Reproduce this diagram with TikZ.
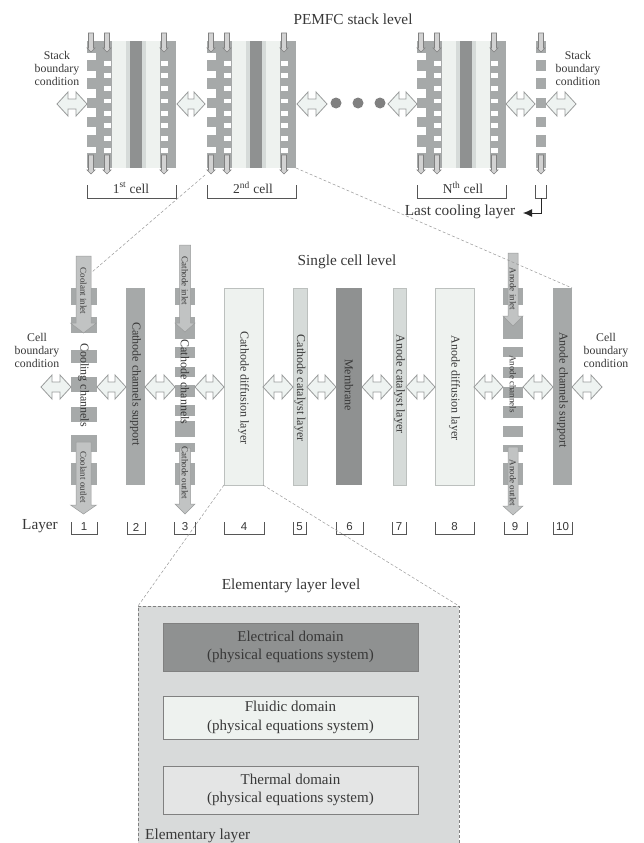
\documentclass[tikz,border=0pt]{standalone}
\usepackage{fontspec}
\usetikzlibrary{arrows.meta}
\setmainfont{Liberation Serif}
\newfontfamily\numfont{Liberation Sans}
\definecolor{txt}{HTML}{383838}
\definecolor{midg}{HTML}{A6A9A9}
\definecolor{darkg}{HTML}{8F9191}
\definecolor{catg}{HTML}{D6DBD9}
\definecolor{gdlg}{HTML}{EEF2EF}
\definecolor{edgeg}{HTML}{9A9C9C}
\definecolor{arrf}{HTML}{EEF3F1}
\definecolor{elemg}{HTML}{D8DADA}
\tikzset{
  lbl/.style={text=txt,font=\fontsize{15.3}{17}\selectfont,inner sep=0pt,align=center},
  celllbl/.style={text=txt,font=\fontsize{13.5}{15}\selectfont,inner sep=0pt,align=center},
  smalllbl/.style={text=txt,font=\fontsize{11.8}{13}\selectfont,inner sep=0pt,align=center},
  vert/.style={text=txt,font=\fontsize{12}{13}\selectfont,inner sep=0pt,rotate=-90},
  vsmall/.style={text=txt,font=\fontsize{9}{10}\selectfont,inner sep=0pt,rotate=-90},
  boxn/.style={inner sep=0pt,outer sep=0pt,anchor=north west,line width=.5pt},
  bigar/.style={draw=edgeg,fill=arrf,line width=.8pt,line join=miter},
  tinyar/.style={draw=gray,fill=white!65!gray,line width=.6pt},
  flowar/.style={draw=edgeg,fill=midg!70!white,line width=.5pt},
  brk/.style={draw=txt!85!white,line width=.7pt},
  zoomline/.style={draw=gray!80!white,line width=.5pt,densely dashed},
  dombox/.style={boxn,draw=gray,text=txt,align=center,font=\fontsize{15}{18.5}\selectfont}
}
% name, x1, y1, x2, y2, fill
\newcommand\rectn[6]{%
  \pgfmathsetmacro\rw{#4-#2}\pgfmathsetmacro\rh{#5-#3}%
  \node[boxn,fill=#6,minimum width=\rw pt,minimum height=\rh pt] (#1) at (#2,#3) {};}
% x1, x2, y : horizontal double arrow
\newcommand\dbl[3]{%
  \draw[bigar] (#1,#3) -- (#1+11,#3-12) -- (#1+11,#3-5) -- (#2-11,#3-5) -- (#2-11,#3-12) -- (#2,#3)
     -- (#2-11,#3+12) -- (#2-11,#3+5) -- (#1+11,#3+5) -- (#1+11,#3+12) -- cycle;}
% x, y1, y2 : tiny downward arrow
\newcommand\tinydown[3]{%
  \draw[tinyar] (#1-2.5,#2) -- (#1+2.5,#2) -- (#1+2.5,#3-4) -- (#1+4,#3-4) -- (#1,#3) -- (#1-4,#3-4) -- (#1-2.5,#3-4) -- cycle;}
% xc, half body, half head, ytop, yneck, ytip : flow arrow
\newcommand\flow[6]{%
  \draw[flowar] (#1-#2,#4) -- (#1+#2,#4) -- (#1+#2,#5) -- (#1+#3,#5) -- (#1,#6) -- (#1-#3,#5) -- (#1-#2,#5) -- cycle;}
% x1,x2,y : bracket
\newcommand\lbrk[4][13]{%
  \draw[brk] (#2,#4-#1) -- (#2,#4) -- (#3,#4) -- (#3,#4-#1);}
% one cooling strip of the stack, x offset
\newcommand\coolstrip[1]{%
  \fill[midg] (#1,41) rectangle (#1+10,168);
  \foreach \a/\b in {53/60,71/78,89/98,108/117,127/135,147/153}
    {\fill[white] (#1,\a) rectangle (#1+10,\b);}}
\newcommand\stackcell[1]{%
  \begin{scope}[xshift=#1pt]
    \coolstrip{87}
    \fill[midg] (96,41) rectangle (112,168);
    \fill[gdlg] (112,41) rectangle (126,168);
    \fill[catg] (126,41) rectangle (130,168);
    \fill[darkg] (130,41) rectangle (142,168);
    \fill[catg] (142,41) rectangle (146,168);
    \fill[gdlg] (146,41) rectangle (160,168);
    \fill[midg] (160,41) rectangle (176,168);
    \foreach \a/\b in {61/66,73/78,86/91,99/103,111/116,123/128,136/141,148/153} {
      \fill[white] (104,\a) rectangle (111,\b);
      \fill[white] (161,\a) rectangle (168,\b);}
    \foreach \xx in {91,107,164} {\tinydown{\xx}{33}{52}\tinydown{\xx}{155}{174}}
  \end{scope}}
\begin{document}
\begin{tikzpicture}[x=1pt,y=-1pt]
\useasboundingbox (0,0) rectangle (643,843);
\fill[white] (0,0) rectangle (643,843);

% ---------- Stack level
\node[lbl] (t1) at (353,19) {PEMFC stack level};
\stackcell{0}
\stackcell{120}
\stackcell{330}
\begin{scope}[xshift=449pt]
  \coolstrip{87}
  \tinydown{92}{33}{52}\tinydown{92}{155}{174}
\end{scope}
\coordinate (cell2sw) at (205,175);
\coordinate (cell2se) at (296,168);
\node[smalllbl] (sbl) at (57,68) {Stack\\boundary\\condition};
\node[smalllbl] (sbr) at (578,68) {Stack\\boundary\\condition};
\dbl{57}{87}{104}\dbl{177}{205}{104}\dbl{297}{327}{104}
\foreach \xx in {336,358,380} {\fill[gray] (\xx,103) circle (5.5);}
\dbl{388}{417}{104}\dbl{506}{535}{104}\dbl{546}{576}{104}
\lbrk{87}{176}{198}\lbrk{207}{296}{198}\lbrk{417}{506}{198}\lbrk{535}{546}{198}
\node[celllbl] (c1) at (131,188) {1\textsuperscript{st} cell};
\node[celllbl] (c2) at (253,188) {2\textsuperscript{nd} cell};
\node[celllbl] (cn) at (463,188) {N\textsuperscript{th} cell};
\node[lbl] (lastc) at (460,212) {Last cooling layer};
\coordinate (lastb) at (541,198);
\coordinate (lastt) at (523,213);
\draw[draw=black!85,line width=1pt,-{Latex[length=9pt,width=8pt]}] (lastb) |- (lastt);

% ---------- Single cell level
\node[lbl] (t2) at (347,262) {Single cell level};
\fill[midg] (71,288) rectangle (97,485);
\foreach \a/\b in {333/350,363/377,392/407,422/435,305/317,452/463}
  {\fill[white] (71,\a) rectangle (97,\b);}
\rectn{L2}{126}{288}{145}{485}{midg}
\fill[midg] (175,288) rectangle (195,485);
\foreach \a/\b in {339/347,358/367,377/385,397/405,416/421,437/443,305/317,452/463}
  {\fill[white] (175,\a) rectangle (195,\b);}
\rectn{L4}{224}{288}{263}{485}{gdlg}
\rectn{L5}{293}{288}{307}{485}{catg}
\rectn{L6}{336}{288}{362}{485}{darkg}
\rectn{L7}{393}{288}{406}{485}{catg}
\rectn{L8}{435}{288}{474}{485}{gdlg}
\fill[midg] (503,288) rectangle (523,485);
\foreach \a/\b in {305/317,339/347,357/367,378/387,398/406,418/426,437/445,452/463}
  {\fill[white] (503,\a) rectangle (523,\b);}
\rectn{L10}{553}{288}{572}{485}{midg}
\foreach \n in {L4,L5,L7,L8} {\draw[catg!70!gray,line width=.5pt] (\n.north west) rectangle (\n.south east);}

\flow{83.5}{7.5}{13}{256}{323}{333}
\flow{83.5}{7.5}{13}{442}{505}{514}
\flow{185}{5.5}{10}{245}{323}{332}
\flow{185}{5.5}{10}{448}{504}{514}
\flow{513}{5}{10}{253}{316}{326}
\flow{513}{5}{10}{447}{506}{515}

\node[vsmall] (coolin) at (83.5,291) {Coolant inlet};
\node[vert] at (83.5,385) {Cooling channels};
\node[vsmall] at (83.5,477) {Coolant outlet};
\node[vert] at (135.5,384) {Cathode channels support};
\node[vsmall] at (185,281) {Cathode inlet};
\node[vert] at (185,382) {Cathode channels};
\node[vsmall] at (185,473) {Cathode outlet};
\node[vert] at (243.5,388) {Cathode diffusion layer};
\node[vert] at (300,388) {Cathode catalyst layer};
\node[vert] at (349,385) {Membrane};
\node[vert] at (399.5,384) {Anode catalyst layer};
\node[vert] at (454.5,388) {Anode diffusion layer};
\node[vsmall] at (513,289) {Anode inlet};
\node[vsmall] at (513,384) {Anode channels};
\node[vsmall] at (513,483) {Anode outlet};
\node[vert] at (562.5,390) {Anode channels support};

\node[smalllbl] (cbl) at (37,350) {Cell\\boundary\\condition};
\node[smalllbl] (cbr) at (606,350) {Cell\\boundary\\condition};
\foreach \a/\b in {41/71,97/126,145/175,195/224,263/293,307/336,362/392,406/435,474/503,523/553,572/602}
  {\dbl{\a}{\b}{387}}

\node[lbl] (lay) at (40,526) {Layer};
\foreach \a/\b/\n/\c in {71/97/1/84,127/145/2/136,174/195/3/185,224/264/4/244,293/306/5/299.5,336/363/6/349.5,392/406/7/399,435/474/8/454.5,504/527/9/515,553/572/10/562.5} {
  \lbrk[12]{\a}{\b}{534}
  \node[text=txt,font=\numfont\fontsize{11.5}{13}\selectfont,inner sep=0pt] at (\c,527) {\n};}

% ---------- Elementary level
\node[lbl] (t3) at (291,586) {Elementary layer level};
\begin{scope}
  \clip (0,0) rectangle (643,843);
  \node[boxn,fill=elemg,minimum width=321pt,minimum height=245pt] (elem) at (138,606) {};
  \draw[draw=gray,line width=.6pt,densely dashed] (elem.south west) -- (elem.north west) -- (elem.north east) -- (elem.south east);
\end{scope}
\node[dombox,fill=darkg,minimum width=255pt,minimum height=48pt] (dom1) at (163,623) {Electrical domain\\(physical equations system)};
\node[dombox,fill=gdlg,minimum width=255pt,minimum height=43pt] (dom2) at (163,696) {Fluidic domain\\(physical equations system)};
\node[dombox,fill=elemg!70!white,minimum width=255pt,minimum height=48pt] (dom3) at (163,766) {Thermal domain\\(physical equations system)};
\node[lbl,anchor=west] (elab) at (145,836) {Elementary layer};

% ---------- zoom lines
\coordinate (coolintop) at (92,272);
\draw[zoomline] (cell2sw) -- (coolintop);
\draw[zoomline] (cell2se) -- (L10.north east);
\draw[zoomline] (L4.south west) -- (elem.north west);
\draw[zoomline] (L4.south east) -- (elem.north east);
\end{tikzpicture}
\end{document}
